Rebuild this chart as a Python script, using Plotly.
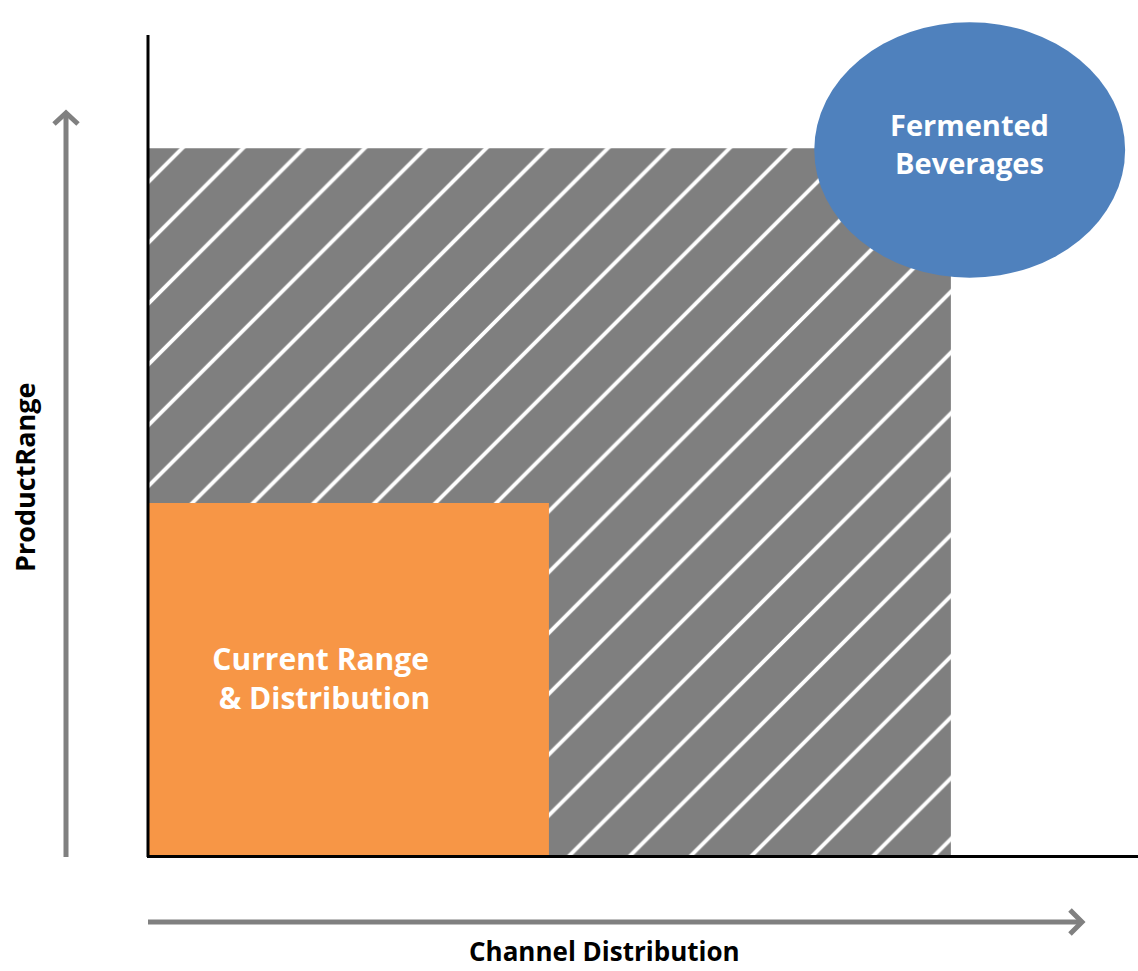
import plotly.graph_objects as go

# ---- data (axis units 0..10) ----
regions = ["Growth Potential", "Current Range & Distribution"]
region_width = [8.11, 4.05]      # channel distribution extent
region_height = [8.27, 4.13]     # product range extent
region_colors = ["#7f7f7f", "#f79646"]

target_label = "Fermented<br>Beverages"
target_center = (8.30, 8.25)
target_radius = (1.57, 1.49)
target_color = "#4f81bd"

current_label = "Current Range<br> & Distribution"
current_label_pos = (1.74, 2.09)

x_title = "Channel Distribution"
y_title = "ProductRange"

W, H = 1138, 971
L, R, T, B = 148, 0, 0, 114
PW, PH = W - L - R, H - T - B


def px(x):
    return (x - L) / PW


def py(y):
    return (H - B - y) / PH


fig = go.Figure()
# hatched growth area
fig.add_trace(go.Bar(
    x=[region_width[0] / 2], y=[region_height[0]], width=[region_width[0]],
    marker=dict(color=region_colors[0], line=dict(width=0),
                pattern=dict(shape="/", fgcolor="white", bgcolor=region_colors[0], fgopacity=1,
                             size=43, solidity=0.09, fillmode="overlay")),
    name=regions[0], hoverinfo="skip",
))
# current area
fig.add_trace(go.Bar(
    x=[region_width[1] / 2], y=[region_height[1]], width=[region_width[1]],
    marker=dict(color=region_colors[1], line=dict(width=0)),
    name=regions[1], hoverinfo="skip",
))

shapes = []
# target ellipse
shapes.append(dict(type="circle", xref="x", yref="y",
                   x0=target_center[0] - target_radius[0], x1=target_center[0] + target_radius[0],
                   y0=target_center[1] - target_radius[1], y1=target_center[1] + target_radius[1],
                   fillcolor=target_color, line=dict(width=0), layer="above"))
# axis lines
shapes.append(dict(type="line", xref="paper", yref="paper", x0=px(148), x1=px(148), y0=py(857), y1=py(35),
                   line=dict(color="black", width=3)))
shapes.append(dict(type="line", xref="paper", yref="paper", x0=px(147), x1=px(1138), y0=py(856.5), y1=py(856.5),
                   line=dict(color="black", width=3)))
# arrows
gray = "#808080"
shapes.append(dict(type="line", xref="paper", yref="paper", x0=px(66), x1=px(66), y0=py(857), y1=py(114),
                   line=dict(color=gray, width=5)))
shapes.append(dict(type="path", xref="paper", yref="paper",
                   path=f"M {px(54)},{py(124)} L {px(66)},{py(113)} L {px(78)},{py(124)}",
                   line=dict(color=gray, width=5)))
shapes.append(dict(type="line", xref="paper", yref="paper", x0=px(148), x1=px(1081), y0=py(922), y1=py(922),
                   line=dict(color=gray, width=5)))
shapes.append(dict(type="path", xref="paper", yref="paper",
                   path=f"M {px(1070)},{py(910)} L {px(1082)},{py(922)} L {px(1070)},{py(934)}",
                   line=dict(color=gray, width=5)))

font_family = "Open Sans"
annotations = [
    dict(x=target_center[0], y=target_center[1] + 0.07, xref="x", yref="y", text=target_label,
         showarrow=False, xanchor="center", yanchor="middle",
         font=dict(family=font_family, size=29, color="white", weight="bold")),
    dict(x=current_label_pos[0], y=current_label_pos[1], xref="x", yref="y", text=current_label,
         showarrow=False, xanchor="center", yanchor="middle",
         font=dict(family=font_family, size=30, color="white", weight="bold")),
    dict(x=px(604), y=py(951), xref="paper", yref="paper", text=x_title, showarrow=False,
         xanchor="center", yanchor="middle",
         font=dict(family=font_family, size=26, color="black", weight="bold")),
    dict(x=px(25), y=py(478), xref="paper", yref="paper", text=y_title, showarrow=False, textangle=-90,
         xanchor="center", yanchor="middle",
         font=dict(family=font_family, size=27, color="black", weight="bold")),
]

fig.update_layout(
    width=W, height=H, margin=dict(l=L, r=R, t=T, b=B),
    paper_bgcolor="white", plot_bgcolor="white",
    barmode="overlay", showlegend=False,
    xaxis=dict(range=[0, 10], visible=False, fixedrange=True),
    yaxis=dict(range=[0, 10], visible=False, fixedrange=True),
    shapes=shapes, annotations=annotations,
)

fig.write_html("out.html")
